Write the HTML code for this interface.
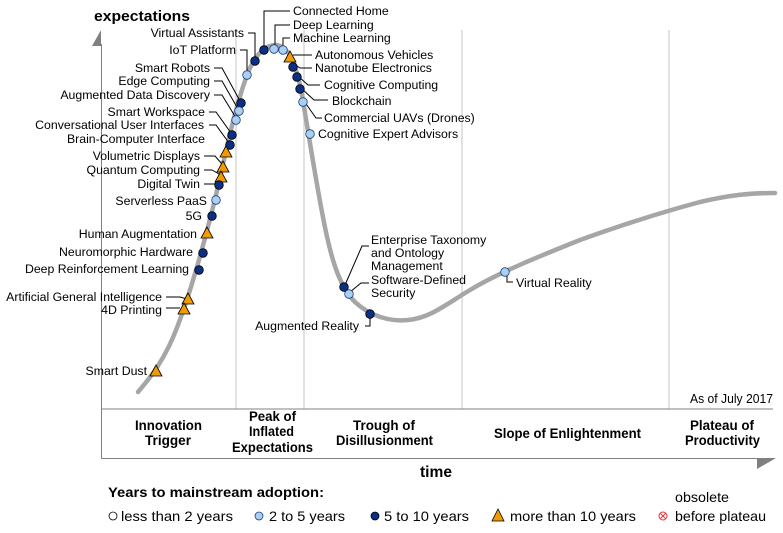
<!DOCTYPE html>
<html><head><meta charset="utf-8"><style>
html,body{margin:0;padding:0;background:#fff;}
svg{display:block;font-family:"Liberation Sans",Arial,sans-serif;}
.l{font-size:12.3px;fill:#000;}
.ph{font-size:13.5px;font-weight:bold;fill:#000;}
.lg{font-size:14px;fill:#000;}
.ld{stroke:#000;stroke-width:1;fill:none}
.d{fill:#0b2f86;stroke:#000;stroke-width:0.8}
.lt{fill:#a9d0f2;stroke:#1b3d7a;stroke-width:0.8}
.t{fill:#f39a00;stroke:#000;stroke-width:0.8}
</style></head><body>
<svg width="783" height="533" viewBox="0 0 783 533" xmlns="http://www.w3.org/2000/svg">
<g stroke="#d9d9d9" stroke-width="1.5">
<line x1="236" y1="30" x2="236" y2="409"/>
<line x1="304" y1="30" x2="304" y2="409"/>
<line x1="462" y1="30" x2="462" y2="409"/>
<line x1="669" y1="30" x2="669" y2="409"/>
</g>
<line x1="101.5" y1="44" x2="101.5" y2="458" stroke="#808080" stroke-width="1"/>
<polygon points="101,30 101,46 92,46" fill="#808080"/>
<line x1="101" y1="409" x2="773" y2="409" stroke="#808080" stroke-width="1"/>
<line x1="101" y1="458.5" x2="773" y2="458.5" stroke="#808080" stroke-width="1"/>
<polygon points="757,458 776,458 757,469" fill="#808080"/>
<path d="M138,392 C150,378 165,360 178,325 C192,288 205,240 216,195 C226,150 238,95 250,68 C258,52 266,45 276,45 C288,46 296,62 302,95 C308,130 314,170 322,212 C330,255 338,285 355,302 C370,316 390,322 408,320 C430,318 445,305 470,290 C500,272 540,256 580,240 C630,222 670,210 700,202 C730,195 750,193 775,193" stroke="#a6a6a6" stroke-width="4.5" fill="none" stroke-linecap="round"/>
<text x="94" y="21" font-size="15" font-weight="bold" textLength="96" lengthAdjust="spacingAndGlyphs">expectations</text>
<text x="420" y="477" font-size="16" font-weight="bold" textLength="32" lengthAdjust="spacingAndGlyphs">time</text>
<text x="690" y="403" font-size="12.5" textLength="83" lengthAdjust="spacingAndGlyphs">As of July 2017</text>
<g class="ph">
<text x="135" y="430" textLength="67" lengthAdjust="spacingAndGlyphs">Innovation</text>
<text x="145" y="445" textLength="46" lengthAdjust="spacingAndGlyphs">Trigger</text>
<text x="249" y="421" textLength="47" lengthAdjust="spacingAndGlyphs">Peak of</text>
<text x="249" y="436" textLength="45" lengthAdjust="spacingAndGlyphs">Inflated</text>
<text x="232" y="452" textLength="81" lengthAdjust="spacingAndGlyphs">Expectations</text>
<text x="353" y="430" textLength="62" lengthAdjust="spacingAndGlyphs">Trough of</text>
<text x="336" y="445" textLength="97" lengthAdjust="spacingAndGlyphs">Disillusionment</text>
<text x="494" y="438" textLength="147" lengthAdjust="spacingAndGlyphs">Slope of Enlightenment</text>
<text x="690" y="430" textLength="64" lengthAdjust="spacingAndGlyphs">Plateau of</text>
<text x="685" y="445" textLength="75" lengthAdjust="spacingAndGlyphs">Productivity</text>
</g>
<text x="108" y="497" font-size="14" font-weight="bold" textLength="216" lengthAdjust="spacingAndGlyphs">Years to mainstream adoption:</text>
<circle cx="113" cy="516" r="4" fill="#fff" stroke="#000" stroke-width="0.8"/>
<text x="121" y="521" class="lg" textLength="112" lengthAdjust="spacingAndGlyphs">less than 2 years</text>
<circle cx="259" cy="516" r="4" class="lt"/>
<text x="269" y="521" class="lg" textLength="76" lengthAdjust="spacingAndGlyphs">2 to 5 years</text>
<circle cx="375" cy="516" r="4" class="d"/>
<text x="384" y="521" class="lg" textLength="85" lengthAdjust="spacingAndGlyphs">5 to 10 years</text>
<polygon points="498,509 492,521 504,521" class="t"/>
<text x="510" y="521" class="lg" textLength="126" lengthAdjust="spacingAndGlyphs">more than 10 years</text>
<text x="675" y="502" class="lg" textLength="54" lengthAdjust="spacingAndGlyphs">obsolete</text>
<circle cx="663" cy="516" r="4" fill="#fff" stroke="#e53030" stroke-width="1"/>
<path d="M660.5,513.5 l5,5 M665.5,513.5 l-5,5" stroke="#e53030" stroke-width="0.9"/>
<text x="675" y="521" class="lg" textLength="91" lengthAdjust="spacingAndGlyphs">before plateau</text>

<g class="ld">
<path d="M290,11 H264 V48"/>
<path d="M290,25 H275 V46"/>
<path d="M290,38 H283 V47"/>
<path d="M312,55 H293"/>
<path d="M312,68 H300 L294,64"/>
<path d="M320,85 H308 L298,76"/>
<path d="M328,100 H314 L301,88"/>
<path d="M322,118 H316 L304,101"/>
<path d="M248,33 H255 V58"/>
<path d="M240,50 H247 V72"/>
<path d="M214,68 H222 L240,101"/>
<path d="M214,81 H222 L238,109"/>
<path d="M214,95 H222 L236,118"/>
<path d="M209,112 H216 L231,133"/>
<path d="M209,125 H216 L229,143"/>
<path d="M204,156 H215 L222,164"/>
<path d="M204,170 H212 L219,174"/>
<path d="M204,184 H217"/>
<path d="M166,297 H180 L187,299"/>
<path d="M166,308 H180"/>
<path d="M369,246 H362 L345,285"/>
<path d="M369,283 H361 L350,292"/>
<path d="M365,326 H370 V317"/>
<path d="M513,282 H507 V274"/>
</g>
<circle cx="264" cy="50" r="4.3" class="d"/>
<circle cx="274" cy="49" r="4.3" class="lt"/>
<circle cx="283" cy="50" r="4.3" class="lt"/>
<polygon points="290,51 284,62 296,62" class="t"/>
<circle cx="293" cy="67" r="4.3" class="d"/>
<circle cx="297" cy="77" r="4.3" class="d"/>
<circle cx="300" cy="89" r="4.3" class="d"/>
<circle cx="303" cy="102" r="4.3" class="lt"/>
<circle cx="310" cy="134" r="4.3" class="lt"/>
<circle cx="255" cy="61" r="4.3" class="d"/>
<circle cx="247" cy="75" r="4.3" class="lt"/>
<circle cx="241" cy="103" r="4.3" class="d"/>
<circle cx="239" cy="111" r="4.3" class="lt"/>
<circle cx="236" cy="120" r="4.3" class="lt"/>
<circle cx="232" cy="135" r="4.3" class="d"/>
<circle cx="230" cy="145" r="4.3" class="d"/>
<polygon points="226,146 220,157 232,157" class="t"/>
<polygon points="223,161 217,172 229,172" class="t"/>
<polygon points="221,171 215,182 227,182" class="t"/>
<circle cx="219" cy="185" r="4.3" class="d"/>
<circle cx="216" cy="200" r="4.3" class="lt"/>
<circle cx="212" cy="216" r="4.3" class="d"/>
<polygon points="207,227 201,238 213,238" class="t"/>
<circle cx="203" cy="253" r="4.3" class="d"/>
<circle cx="199" cy="270" r="4.3" class="d"/>
<polygon points="188,293 182,304 194,304" class="t"/>
<polygon points="184,303 178,314 190,314" class="t"/>
<polygon points="156,365 150,376 162,376" class="t"/>
<circle cx="344" cy="287" r="4.3" class="d"/>
<circle cx="349" cy="294" r="4.3" class="lt"/>
<circle cx="370" cy="314" r="4.3" class="d"/>
<circle cx="505" cy="272" r="4.3" class="lt"/>
<text class="l" x="293" y="15">Connected Home</text>
<text class="l" x="293" y="29">Deep Learning</text>
<text class="l" x="293" y="42">Machine Learning</text>
<text class="l" x="315" y="59">Autonomous Vehicles</text>
<text class="l" x="315" y="72">Nanotube Electronics</text>
<text class="l" x="324" y="89">Cognitive Computing</text>
<text class="l" x="332" y="105">Blockchain</text>
<text class="l" x="324" y="122">Commercial UAVs (Drones)</text>
<text class="l" x="318" y="138">Cognitive Expert Advisors</text>
<text class="l" x="371" y="244">Enterprise Taxonomy</text>
<text class="l" x="371" y="257">and Ontology</text>
<text class="l" x="371" y="270">Management</text>
<text class="l" x="371" y="284">Software-Defined</text>
<text class="l" x="371" y="297">Security</text>
<text class="l" x="516" y="287">Virtual Reality</text>
<g class="l" text-anchor="end">
<text x="244" y="37">Virtual Assistants</text>
<text x="236" y="54">IoT Platform</text>
<text x="210" y="72">Smart Robots</text>
<text x="210" y="85">Edge Computing</text>
<text x="210" y="99">Augmented Data Discovery</text>
<text x="205" y="116">Smart Workspace</text>
<text x="204" y="129">Conversational User Interfaces</text>
<text x="205" y="143">Brain-Computer Interface</text>
<text x="200" y="160">Volumetric Displays</text>
<text x="200" y="174">Quantum Computing</text>
<text x="200" y="188">Digital Twin</text>
<text x="207" y="205">Serverless PaaS</text>
<text x="202" y="220">5G</text>
<text x="197" y="238">Human Augmentation</text>
<text x="193" y="256">Neuromorphic Hardware</text>
<text x="189" y="273">Deep Reinforcement Learning</text>
<text x="162" y="301">Artificial General Intelligence</text>
<text x="162" y="314">4D Printing</text>
<text x="147" y="375">Smart Dust</text>
<text x="359" y="330">Augmented Reality</text>
</g>
</svg>
</body></html>
